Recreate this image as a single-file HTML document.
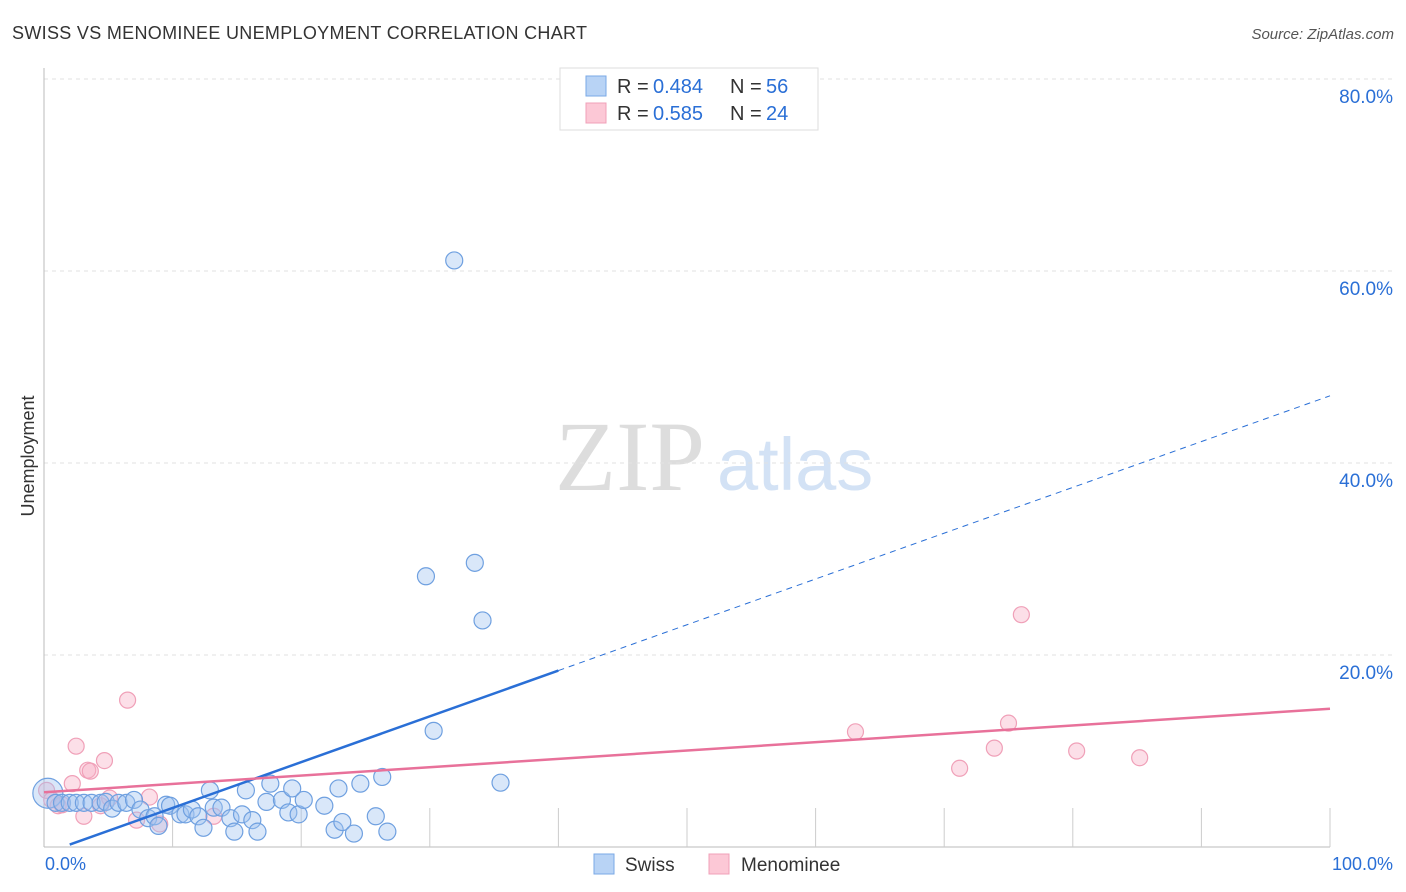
<!DOCTYPE html>
<html><head><meta charset="utf-8"><style>
body{margin:0;background:#fff;font-family:"Liberation Sans",sans-serif;}
</style></head><body>
<svg id="chart" width="1406" height="892" style="position:absolute;left:0;top:0">
<text x="12" y="39" font-size="18" fill="#333" textLength="575">SWISS VS MENOMINEE UNEMPLOYMENT CORRELATION CHART</text>
<text x="1394" y="39" font-size="15" fill="#555" font-style="italic" text-anchor="end">Source: ZipAtlas.com</text>
<text x="555" y="490" font-size="100" fill="#ddd" font-family="Liberation Serif,serif">ZIP</text>
<text x="717" y="490" font-size="74" fill="#d3e2f5">atlas</text>
<text transform="translate(34,456) rotate(-90)" font-size="18" fill="#333" text-anchor="middle">Unemployment</text>
<g id="grid"></g><g id="marks"></g>
<g>
<rect x="560" y="68" width="258" height="62" fill="#fff" stroke="#ddd"/>
<rect x="586" y="76" width="20" height="20" fill="#b8d3f5" stroke="#7aa8e6"/>
<rect x="586" y="103" width="20" height="20" fill="#fcc8d6" stroke="#f0a0b8"/>
<g font-size="20" fill="#333">
<text x="617" y="93">R =</text><text x="653" y="93" fill="#2a6fd6">0.484</text><text x="730" y="93">N =</text><text x="766" y="93" fill="#2a6fd6">56</text></g>
<g font-size="20" fill="#333">
<text x="617" y="120">R =</text><text x="653" y="120" fill="#2a6fd6">0.585</text><text x="730" y="120">N =</text><text x="766" y="120" fill="#2a6fd6">24</text></g>
</g>
<rect x="594" y="854" width="20" height="20" fill="#b8d3f5" stroke="#7aa8e6"/>
<text x="625" y="871" font-size="19" fill="#333">Swiss</text>
<rect x="709" y="854" width="20" height="20" fill="#fcc8d6" stroke="#f0a0b8"/>
<text x="741" y="871" font-size="19" fill="#333">Menominee</text>
<text x="45" y="870" font-size="18" fill="#2a6fd6">0.0%</text>
<text x="1393" y="870" font-size="18" fill="#2a6fd6" text-anchor="end">100.0%</text>
</svg>
<script>
const yTicks=[20,40,60,80];
const swissX=[0.3,0.9,1.4,2.0,2.5,3.1,3.7,4.4,4.8,5.3,5.8,6.4,7.0,7.5,8.1,8.6,8.9,9.5,9.8,10.6,11.0,11.5,12.0,12.4,12.9,13.2,13.8,14.5,14.8,15.4,15.7,16.2,16.6,17.3,17.6,18.5,19.0,19.3,19.8,20.2,21.8,22.6,22.9,23.2,24.1,24.6,25.8,26.3,26.7,29.7,30.3,31.9,33.5,34.1,35.5];
const swissY=[5.6,4.6,4.6,4.6,4.6,4.6,4.6,4.6,4.7,4.0,4.6,4.6,4.9,3.9,3.0,3.2,2.2,4.4,4.3,3.4,3.4,3.9,3.2,2.0,5.9,4.1,4.1,3.0,1.6,3.4,5.9,2.8,1.6,4.7,6.6,4.9,3.6,6.1,3.4,4.9,4.3,1.8,6.1,2.6,1.4,6.6,3.2,7.3,1.6,28.2,12.1,61.1,29.6,23.6,6.7];
const menX=[0.2,0.6,1.1,1.4,2.2,2.5,3.1,3.4,3.6,4.4,4.7,5.1,6.5,7.2,8.2,9.0,13.2,63.1,71.2,73.9,75.0,76.0,80.3,85.2];
const menY=[5.9,4.9,4.3,4.4,6.6,10.5,3.2,8.0,7.9,4.3,9.0,5.1,15.3,2.8,5.2,2.4,3.2,12.0,8.2,10.3,12.9,24.2,10.0,9.3];
const swissTrend=[-0.7,47.0], menTrend=[5.7,14.4], swissSolidEnd=40;
const NS='http://www.w3.org/2000/svg';
const X=v=>44+v*12.86, Y=v=>847-v*9.6;
function mk(tag,attrs,parent){const e=document.createElementNS(NS,tag);for(const k in attrs)e.setAttribute(k,attrs[k]);parent.appendChild(e);return e;}
const grid=document.getElementById('grid'),marks=document.getElementById('marks');
yTicks.forEach(t=>{
 const l=mk('line',{x1:44,x2:1395,y1:Y(t),y2:Y(t),stroke:'#e2e2e2','stroke-dasharray':'4,4'},grid);
 
 
 const tx=mk('text',{x:1393,y:Y(t)+24,'font-size':19,fill:'#2a6fd6','text-anchor':'end'},grid);
 tx.textContent=t.toFixed(1)+'%';
 
 
});
let a=mk('line',{x1:44,x2:44,y1:68,y2:847,stroke:'#bbb'},grid);


a=mk('line',{x1:44,x2:1330,y1:847,y2:847,stroke:'#bbb'},grid);


for(let i=1;i<=10;i++){const t=mk('line',{x1:X(i*10),x2:X(i*10),y1:847,y2:808,stroke:'#ccc'},grid);
 
 }
menX.forEach((x,i)=>{const c=mk('circle',{cx:X(x),cy:Y(menY[i]),r:8,fill:'rgba(248,175,198,0.4)',stroke:'#f0a0b8','stroke-width':1.2},marks);
 
 });
swissX.forEach((x,i)=>{const c=mk('circle',{cx:X(x),cy:Y(swissY[i]),r:i==0?15:8.5,fill:'rgba(160,195,240,0.4)',stroke:'#6fa0e0','stroke-width':1.2},marks);
 
 });
const sy=x=>swissTrend[0]+(swissTrend[1]-swissTrend[0])*x/100;
let l=mk('line',{x1:X(2),y1:Y(sy(2)),x2:X(swissSolidEnd),y2:Y(sy(swissSolidEnd)),stroke:'#2a6fd6','stroke-width':2.5},marks);


l=mk('line',{x1:X(swissSolidEnd),y1:Y(sy(swissSolidEnd)),x2:X(100),y2:Y(sy(100)),stroke:'#2a6fd6','stroke-width':1,'stroke-dasharray':'6,5'},marks);


l=mk('line',{x1:X(0),y1:Y(menTrend[0]),x2:X(100),y2:Y(menTrend[1]),stroke:'#e8719a','stroke-width':2.5},marks);


</script>
</body></html>
